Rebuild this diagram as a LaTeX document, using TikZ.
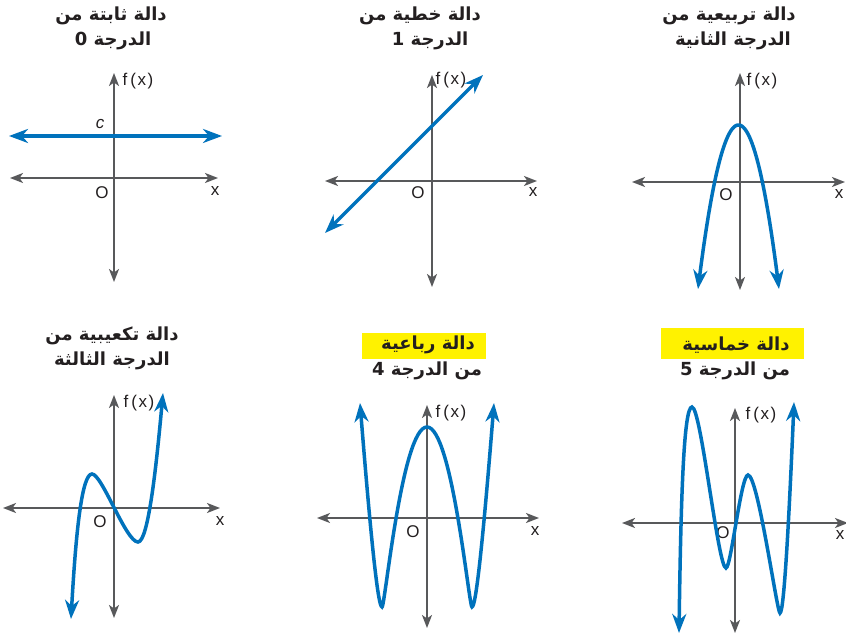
\documentclass[tikz,border=0pt]{standalone}
\usepackage{fontspec}
\setmainfont{Liberation Sans}
\newfontfamily\arabicfont[Script=Arabic]{DejaVu Sans}
\newfontfamily\labfont{Liberation Sans}
\TeXXeTstate=1
\usetikzlibrary{arrows.meta}
\definecolor{fblue}{RGB}{0,114,188}
\definecolor{axgray}{RGB}{88,89,91}
\definecolor{hlyellow}{RGB}{255,242,0}
\definecolor{txt}{RGB}{35,31,32}
\tikzset{
  axisline/.style={draw=axgray, line width=2pt,
    {Stealth[length=13pt,width=10pt,inset=3.5pt]}-{Stealth[length=13pt,width=10pt,inset=3.5pt]}},
  graphline/.style={draw=fblue, line width=3.5pt,
    {Stealth[length=19pt,width=14pt,inset=6pt]}-{Stealth[length=19pt,width=14pt,inset=6pt]}},
  titletext/.style={font=\arabicfont\bfseries\fontsize{18}{20}\selectfont, text=txt, inner sep=0pt},
  lab/.style={font=\labfont\fontsize{17}{18}\selectfont, text=txt, inner sep=0pt},
  labit/.style={font=\labfont\itshape\fontsize{17}{18}\selectfont, text=txt, inner sep=0pt},
}
\newcommand{\fxlabel}{f\kern3pt(\kern1.5pt x\kern1.5pt)}
\begin{document}
\begin{tikzpicture}[x=1pt,y=-1pt]
\useasboundingbox (0,0) rectangle (846,636);
\fill[white] (0,0) rectangle (846,636);

% ---------- highlights ----------
\fill[hlyellow] (362,333) rectangle (486,359);
\fill[hlyellow] (661,328) rectangle (804,359);

% ---------- titles ----------
\node[titletext] (t1a) at (111,16) {\beginR دالة ثابتة من\endR};
\node[titletext] (t1b) at (113,41) {\beginR الدرجة 0\endR};
\node[titletext] (t2a) at (420,16) {\beginR دالة خطية من\endR};
\node[titletext] (t2b) at (430,41) {\beginR الدرجة 1\endR};
\node[titletext] (t3a) at (729,16) {\beginR دالة تربيعية من\endR};
\node[titletext] (t3b) at (733,41) {\beginR الدرجة الثانية\endR};
\node[titletext] (t4a) at (112,336) {\beginR دالة تكعيبية من\endR};
\node[titletext] (t4b) at (112,361) {\beginR الدرجة الثالثة\endR};
\node[titletext] (t5a) at (428,345) {\beginR دالة رباعية\endR};
\node[titletext] (t5b) at (427,371) {\beginR من الدرجة 4\endR};
\node[titletext] (t6a) at (736,345) {\beginR دالة خماسية\endR};
\node[titletext] (t6b) at (735,371) {\beginR من الدرجة 5\endR};

% ---------- axes ----------
\coordinate (v1t) at (114,73);  \coordinate (v1b) at (114,282);
\coordinate (h1l) at (10,178);  \coordinate (h1r) at (218,178);
\coordinate (v2t) at (432,75);  \coordinate (v2b) at (432,287);
\coordinate (h2l) at (325,181); \coordinate (h2r) at (537,181);
\coordinate (v3t) at (740,73);  \coordinate (v3b) at (740,290);
\coordinate (h3l) at (632,182); \coordinate (h3r) at (845,182);
\coordinate (v4t) at (114,395); \coordinate (v4b) at (114,618);
\coordinate (h4l) at (3,508);   \coordinate (h4r) at (220,508);
\coordinate (v5t) at (427,405); \coordinate (v5b) at (427,628);
\coordinate (h5l) at (317,518); \coordinate (h5r) at (539,518);
\coordinate (v6t) at (735,408); \coordinate (v6b) at (735,633);
\coordinate (h6l) at (622,523); \coordinate (h6r) at (848,523);
\foreach \i in {1,...,6}{
  \draw[axisline] (v\i b) -- (v\i t);
  \draw[axisline] (h\i l) -- (h\i r);
}

% ---------- axis labels ----------
\node[lab] (f1) at (138,81) {\fxlabel};
\node[labit] (c1) at (100,124) {c};
\node[lab] (o1) at (102,193) {O};
\node[lab] (x1) at (215,191) {x};
\node[lab] (f2) at (451,80) {\fxlabel};
\node[lab] (o2) at (418,193) {O};
\node[lab] (x2) at (533,192) {x};
\node[lab] (f3) at (762,81) {\fxlabel};
\node[lab] (o3) at (726,195) {O};
\node[lab] (x3) at (839,194) {x};
\node[lab] (f4) at (139,403) {\fxlabel};
\node[lab] (o4) at (100,522) {O};
\node[lab] (x4) at (220,521) {x};
\node[lab] (f5) at (451,413) {\fxlabel};
\node[lab] (o5) at (413,532) {O};
\node[lab] (x5) at (535,531) {x};
\node[lab] (f6) at (761,415) {\fxlabel};
\node[lab] (o6) at (723,533) {O};
\node[lab] (x6) at (840,535) {x};

% ---------- graphs ----------
% degree 0
\draw[graphline] (9,136) -- (222,136);
% degree 1
\draw[graphline] (325,233) -- (483,75);
% degree 2
\draw[graphline] plot[domain=698:779, samples=80, smooth] (\x,{125+0.1*(\x-738.5)^2});
% degree 3
\draw[graphline] (71,619) .. controls (76,530) and (82,474) .. (92,474)
  .. controls (102,474) and (126,542) .. (138,542)
  .. controls (148,542) and (156,470) .. (163,393);
% degree 4
\draw[graphline] (360,403) .. controls (371,540) and (378,607) .. (382,607)
  .. controls (385,607) and (402,427) .. (427,427)
  .. controls (452,427) and (469,607) .. (472,607)
  .. controls (476,607) and (483,540) .. (494,403);
% degree 5
\draw[graphline] (679,633) .. controls (681,490) and (684,407) .. (692,407)
  .. controls (701,407) and (718,568) .. (726,568)
  .. controls (731,568) and (741,475) .. (748,475)
  .. controls (758,475) and (777,613) .. (780,613)
  .. controls (784,613) and (789,520) .. (794,402);
\end{tikzpicture}
\end{document}
